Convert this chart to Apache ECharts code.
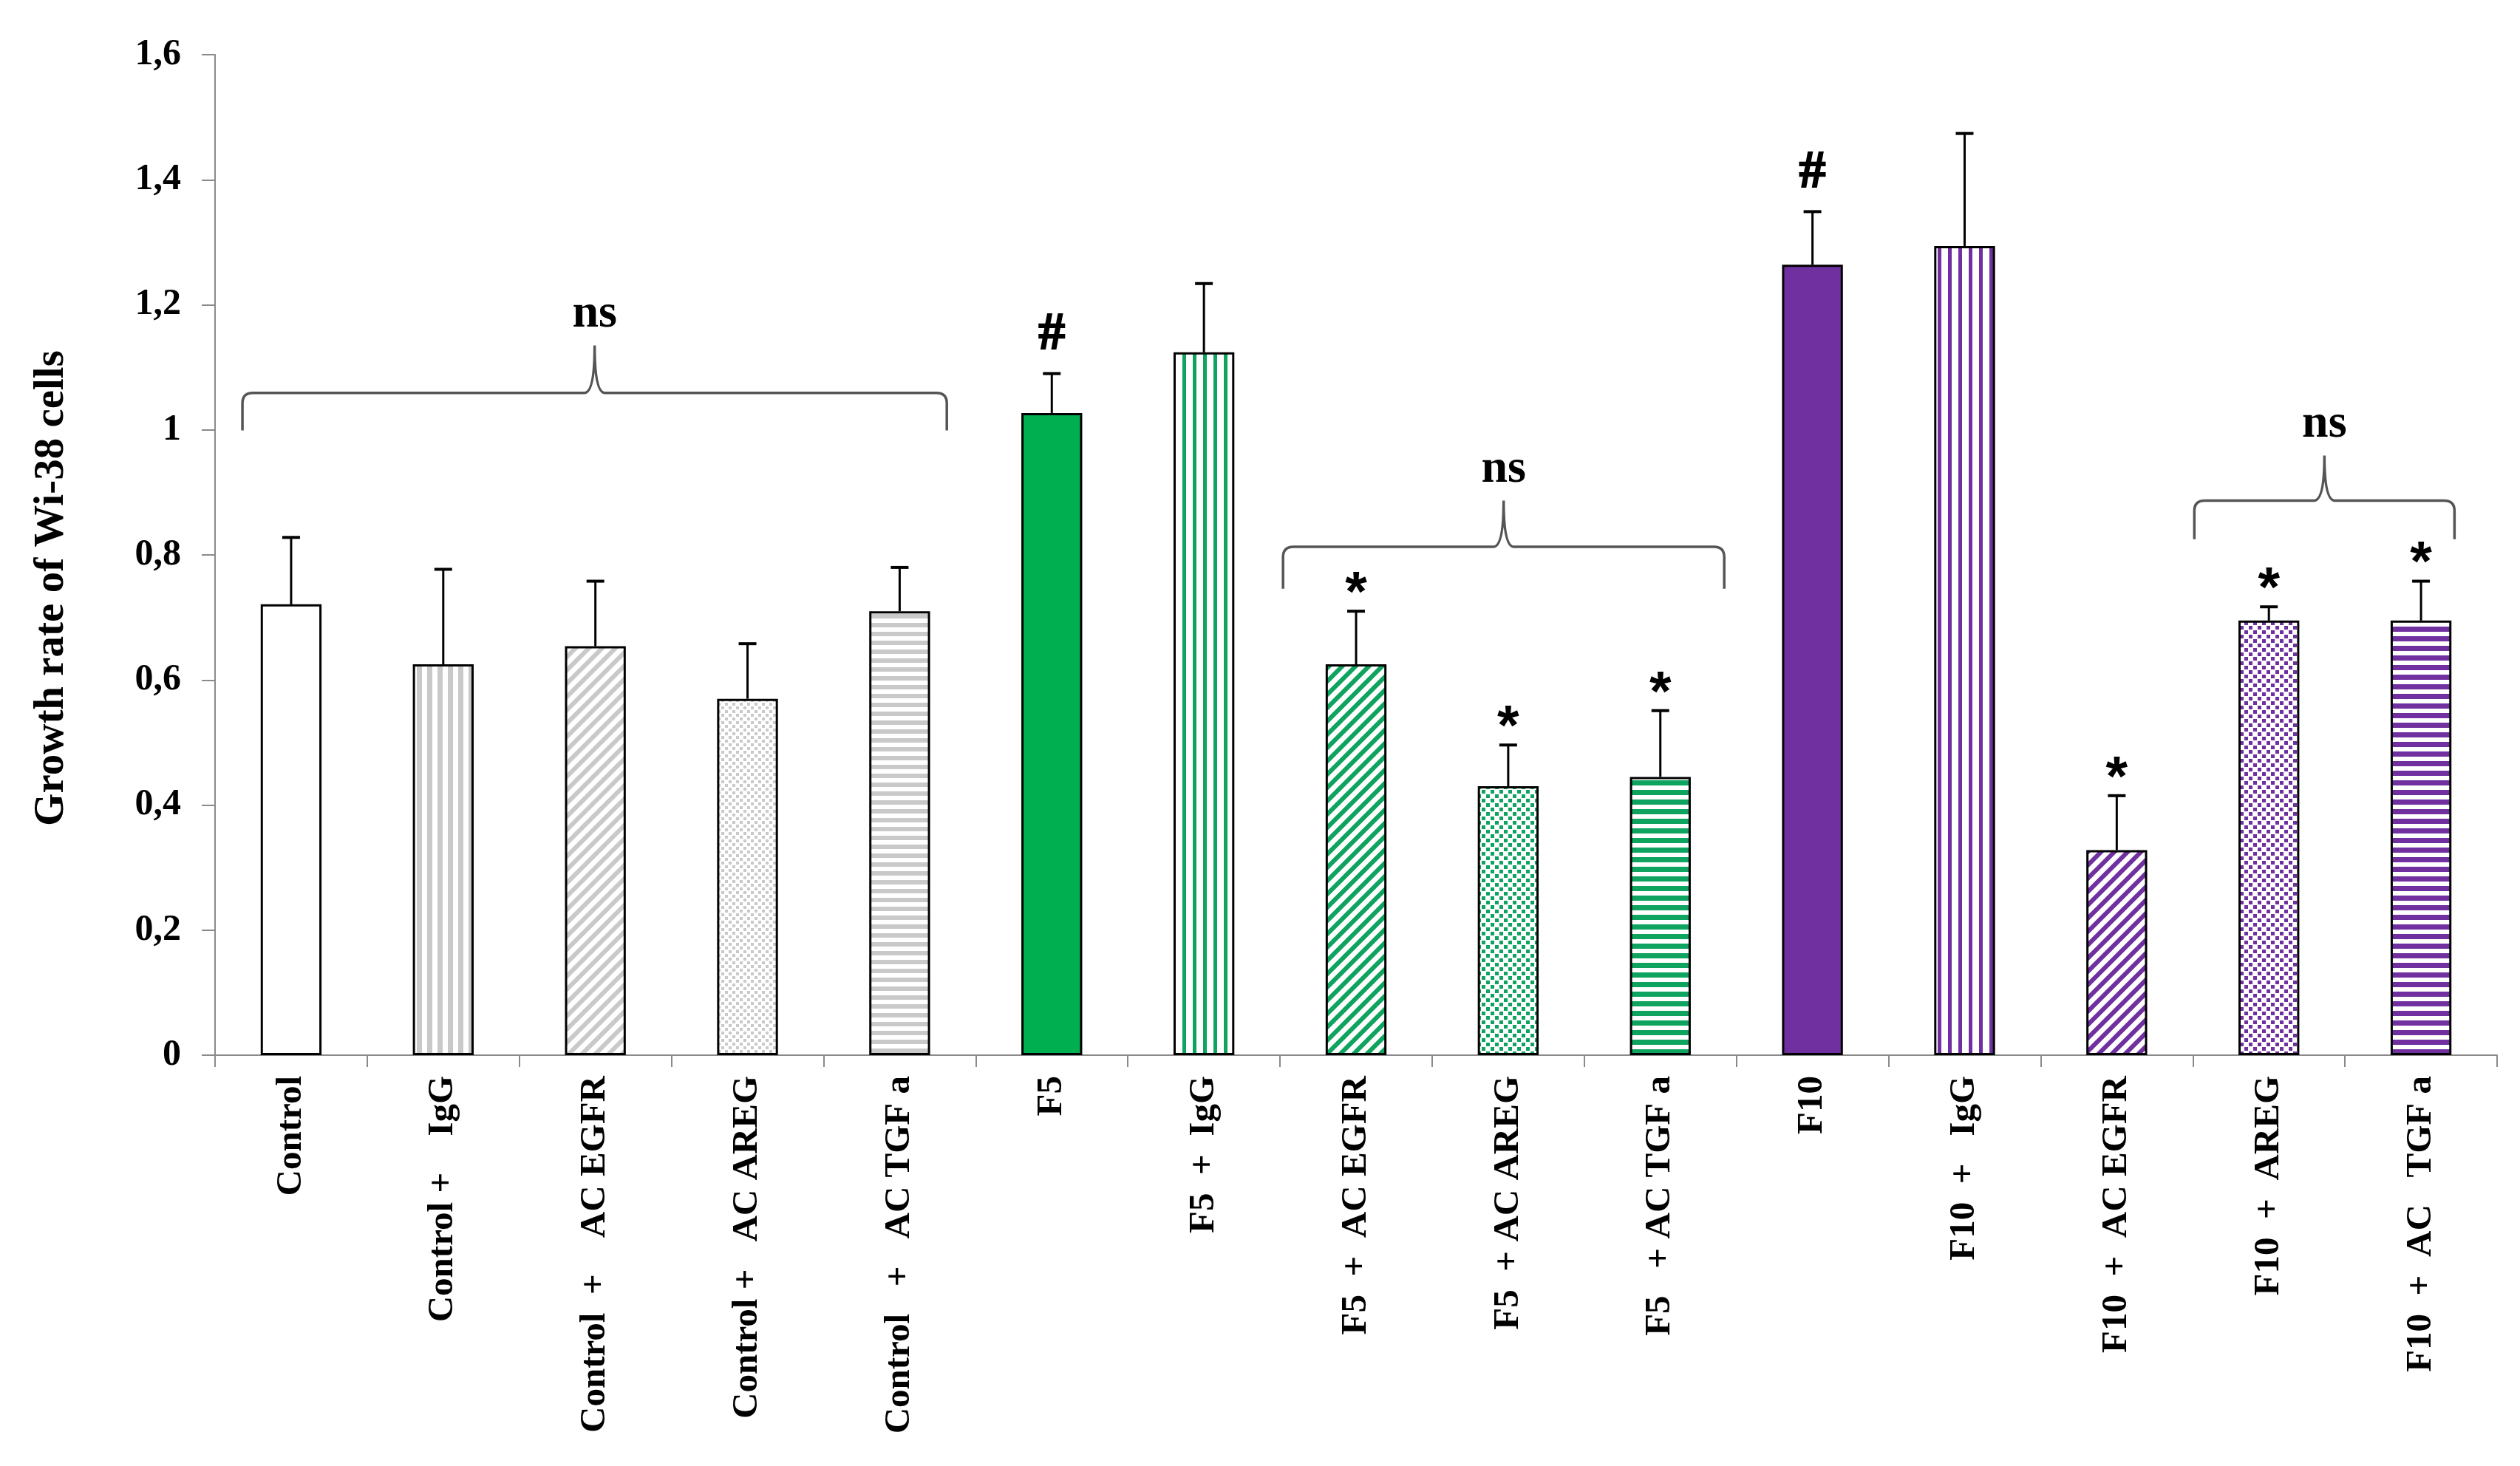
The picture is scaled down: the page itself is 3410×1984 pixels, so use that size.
<!DOCTYPE html>
<html>
<head>
<meta charset="utf-8">
<title>Growth rate of Wi-38 cells</title>
<script src="https://cdn.jsdelivr.net/npm/echarts@6/dist/echarts.min.js"></script>
<style>
  html, body { margin: 0; padding: 0; background: #fff; }
  #chart { width: 3410px; height: 1984px; }
</style>
</head>
<body>
<div id="chart"></div>
<script>
// categories, in drawing order
const categories = [
  'Control',
  'Control +    IgG',
  'Control  +    AC EGFR',
  'Control +   AC AREG',
  'Control   +   AC TGF a',
  'F5',
  'F5  +  IgG',
  'F5  +  AC EGFR',
  'F5  + AC AREG',
  'F5   + AC TGF a',
  'F10',
  'F10  +   IgG',
  'F10  +  AC EGFR',
  'F10  +  AREG',
  'F10  +  AC   TGF a'
];
// mean growth rate and upper error (SD)
const means  = [0.721, 0.625, 0.654, 0.570, 0.710, 1.027, 1.124, 0.625, 0.430, 0.445, 1.264, 1.294, 0.328, 0.695, 0.695];
const errors = [0.107, 0.152, 0.104, 0.088, 0.070, 0.063, 0.110, 0.085, 0.066, 0.106, 0.085, 0.180, 0.087, 0.022, 0.063];
// significance marks above error bars
const markers = ['', '', '', '', '', '#', '', '*', '*', '*', '#', '', '*', '*', '*'];

// "ns" braces: x in category units, y in data units
const bracketFrom  = [-0.32, 6.52, 12.51];
const bracketTo    = [4.31, 9.42, 14.22];
const bracketLevel = [1.059, 0.813, 0.887];
const bracketEnd   = [0.999, 0.746, 0.825];
const bracketTip   = [1.135, 0.887, 0.959];
const bracketText  = ['ns', 'ns', 'ns'];

const yTicks = [0, 0.2, 0.4, 0.6, 0.8, 1, 1.2, 1.4, 1.6];

const SERIF = '"Liberation Serif", "Times New Roman", serif';
const SANS = '"Liberation Sans", Arial, sans-serif';
const GRAY = '#c9c9c9';
const GREEN = '#00b050';
const GREEN_HATCH = '#0ea35e';
const PURPLE = '#7030a0';
const AXIS = '#8a8a8a';

// hatch fills as repeating canvas patterns
function pattern(kind, color, small) {
  const c = document.createElement('canvas');
  const ctx = c.getContext('2d');
  let s = 14;
  if (kind === 'horiz') s = small ? 12 : 13;
  if (kind === 'diag') s = 18;
  if (kind === 'dots') s = small ? 10 : 12;
  c.width = s; c.height = s;
  ctx.fillStyle = '#fff';
  ctx.fillRect(0, 0, s, s);
  ctx.fillStyle = color;
  ctx.strokeStyle = color;
  if (kind === 'vert') {
    ctx.fillRect(4, 0, small ? 7 : 5, s);
  } else if (kind === 'horiz') {
    ctx.fillRect(0, 3, s, small ? 6 : 7);
  } else if (kind === 'diag') {
    ctx.lineWidth = 6;
    ctx.beginPath();
    ctx.moveTo(-s, s * 2); ctx.lineTo(s * 2, -s);
    ctx.moveTo(-s, s); ctx.lineTo(s, -s);
    ctx.moveTo(0, s * 2); ctx.lineTo(s * 2, 0);
    ctx.stroke();
  } else if (kind === 'dots') {
    const d = small ? 4 : 5;
    const h = s / 2;
    ctx.fillRect(1, 1, d, d);
    ctx.fillRect(1 + h, 1 + h, d, d);
  }
  return { image: c, repeat: 'repeat' };
}

const kinds = ['solid', 'vert', 'diag', 'dots', 'horiz'];
function barFill(i) {
  const group = Math.floor(i / 5);
  const kind = kinds[i % 5];
  if (group === 0) return kind === 'solid' ? '#fff' : pattern(kind, GRAY, true);
  const base = group === 1 ? GREEN : PURPLE;
  const hatch = group === 1 ? GREEN_HATCH : PURPLE;
  return kind === 'solid' ? base : pattern(kind, hatch, false);
}

const chart = echarts.init(document.getElementById('chart'));

const option = {
  backgroundColor: '#fff',
  animation: false,
  grid: { left: 291, right: 31, top: 74, bottom: 556 },
  xAxis: {
    type: 'category',
    data: categories,
    axisLine: { lineStyle: { color: AXIS, width: 2 } },
    axisTick: { show: true, length: 16, lineStyle: { color: AXIS, width: 2 } },
    axisLabel: {
      interval: 0,
      rotate: 90,
      margin: 28,
      color: '#000',
      fontFamily: SERIF,
      fontWeight: 'bold',
      fontSize: 49
    }
  },
  yAxis: {
    type: 'value',
    min: 0,
    max: 1.6,
    interval: 0.2,
    name: 'Growth rate of Wi-38 cells',
    nameLocation: 'middle',
    nameGap: 192,
    nameTextStyle: {
      color: '#000',
      fontFamily: SERIF,
      fontWeight: 'bold',
      fontSize: 57,
      padding: [0, 90, 0, 0]
    },
    splitLine: { show: false },
    axisLine: { show: true, lineStyle: { color: AXIS, width: 2 } },
    axisTick: { show: true, length: 18, lineStyle: { color: AXIS, width: 2 } },
    axisLabel: {
      margin: 46,
      color: '#000',
      fontFamily: SERIF,
      fontWeight: 'bold',
      fontSize: 50,
      formatter: function (v) {
        const t = yTicks.find(k => Math.abs(k - v) < 1e-6);
        return String(t === undefined ? v : t).replace('.', ',');
      }
    }
  },
  series: [{
    // bars
    type: 'bar',
    barWidth: '40%',
    data: means.map((m, i) => ({
      value: m,
      itemStyle: { color: barFill(i), borderColor: '#000', borderWidth: 3 }
    })),
    z: 2
  }, {
    // upper error bars + significance marks
    type: 'custom',
    data: means.map((m, i) => [i, m, errors[i]]),
    encode: { x: 0, y: 1 },
    renderItem: function (params, api) {
      const i = api.value(0);
      const top = api.coord([i, api.value(1)]);
      const hi = api.coord([i, api.value(1) + api.value(2)]);
      const children = [{
        type: 'line',
        shape: { x1: top[0], y1: top[1], x2: hi[0], y2: hi[1] },
        style: { stroke: '#000', lineWidth: 3 }
      }, {
        type: 'line',
        shape: { x1: hi[0] - 12, y1: hi[1], x2: hi[0] + 12, y2: hi[1] },
        style: { stroke: '#000', lineWidth: 4 }
      }];
      const mk = markers[params.dataIndex];
      if (mk) {
        const star = mk === '*';
        children.push({
          type: 'text',
          style: {
            text: mk,
            x: hi[0],
            y: hi[1] - (star ? 22 : 52),
            fill: '#000',
            stroke: star ? null : '#000',
            lineWidth: star ? 0 : 2,
            font: star ? 'bold 76px ' + SANS : 'bold 72px ' + SERIF,
            textAlign: 'center', align: 'center',
            textVerticalAlign: 'middle', verticalAlign: 'middle'
          }
        });
      }
      return { type: 'group', children: children };
    },
    z: 3
  }, {
    // "ns" braces
    type: 'custom',
    data: bracketFrom.map((f, k) => [Math.max(0, Math.round(f)), bracketLevel[k], k]),
    encode: { x: 0, y: 1 },
    renderItem: function (params, api) {
      const k = params.dataIndex;
      const band = api.size([1, 0])[0];
      const x0 = api.coord([0, 0])[0];
      const xL = x0 + bracketFrom[k] * band;
      const xR = x0 + bracketTo[k] * band;
      const xM = (xL + xR) / 2;
      const yH = api.coord([0, bracketLevel[k]])[1];
      const yB = api.coord([0, bracketEnd[k]])[1];
      const yT = api.coord([0, bracketTip[k]])[1];
      const r = 14;
      const path = [
        'M', xL, yB, 'L', xL, yH + r, 'Q', xL, yH, xL + r, yH,
        'L', xM - r, yH, 'Q', xM, yH, xM, yT,
        'M', xM, yT, 'Q', xM, yH, xM + r, yH,
        'L', xR - r, yH, 'Q', xR, yH, xR, yH + r, 'L', xR, yB
      ].join(' ');
      return {
        type: 'group',
        children: [{
          type: 'path',
          shape: { pathData: path },
          style: { stroke: '#555', lineWidth: 3.5, fill: 'none' }
        }, {
          type: 'text',
          style: {
            text: bracketText[k],
            x: xM,
            y: yT - 10,
            fill: '#000',
            font: 'bold 64px ' + SERIF,
            textAlign: 'center', align: 'center',
            textVerticalAlign: 'bottom', verticalAlign: 'bottom'
          }
        }]
      };
    },
    z: 3
  }]
};

chart.setOption(option);
</script>
</body>
</html>
